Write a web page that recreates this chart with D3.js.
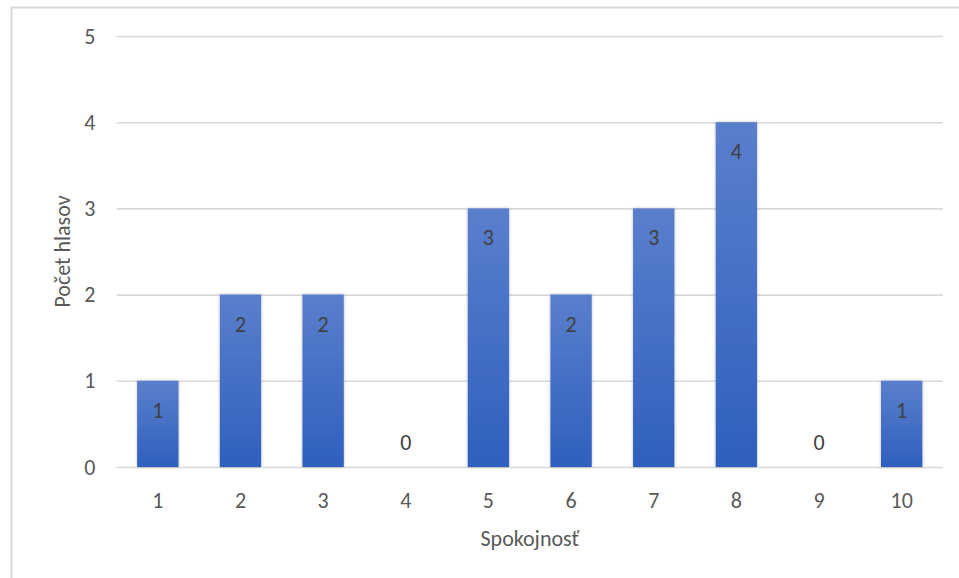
<!DOCTYPE html>
<html>
<head>
<meta charset="utf-8">
<script src="https://cdn.jsdelivr.net/npm/d3@7"></script>
<style>
  html, body { margin: 0; padding: 0; background: #fff; }
  svg { display: block; }
</style>
</head>
<body>
<svg id="chart" width="959" height="578"></svg>
<script>
// Satisfaction score categories and number of votes for each
const categories = ["1", "2", "3", "4", "5", "6", "7", "8", "9", "10"];
const votes = [1, 2, 2, 0, 3, 2, 3, 4, 0, 1];
const yTicks = [0, 1, 2, 3, 4, 5];
const xTitle = "Spokojnosť";
const yTitle = "Počet hlasov";

const W = 959, H = 578;
const margin = { left: 116.5, right: 16, top: 36, bottom: 111 };
const font = "Carlito, Calibri, Lato, 'Open Sans', sans-serif";
const fs = 22;

const svg = d3.select("#chart");

// chart frame
svg.append("rect")
  .attr("x", 11.5).attr("y", 7.5)
  .attr("width", W + 20).attr("height", H + 20)
  .attr("fill", "#fff")
  .attr("stroke", "#d9d9d9").attr("stroke-width", 2);

const x = d3.scaleBand()
  .domain(categories)
  .range([margin.left, W - margin.right])
  .paddingInner(0.5).paddingOuter(0.25);

const y = d3.scaleLinear()
  .domain([0, 5])
  .range([H - margin.bottom, margin.top]);

const defs = svg.append("defs");
const grad = defs.append("linearGradient")
  .attr("id", "barFill").attr("x1", 0).attr("y1", 0).attr("x2", 0).attr("y2", 1);
grad.append("stop").attr("offset", "0%").attr("stop-color", "#5a7fcc");
grad.append("stop").attr("offset", "100%").attr("stop-color", "#2f5fbe");

const shadow = defs.append("filter").attr("id", "barShadow")
  .attr("x", "-20%").attr("y", "-10%").attr("width", "140%").attr("height", "120%");
shadow.append("feDropShadow")
  .attr("dx", 0).attr("dy", 0).attr("stdDeviation", 1.6)
  .attr("flood-color", "#000").attr("flood-opacity", 0.28);

// horizontal gridlines and value axis
const yAxis = d3.axisLeft(y)
  .tickValues(yTicks)
  .tickSize(-(W - margin.right - margin.left))
  .tickPadding(21)
  .tickFormat(d3.format("d"));

const gy = svg.append("g")
  .attr("transform", `translate(${margin.left},0)`)
  .call(yAxis);
gy.select(".domain").remove();
gy.selectAll(".tick line").attr("stroke", "#d9d9d9").attr("stroke-width", 1.6);
gy.selectAll(".tick text")
  .attr("fill", "#595959").attr("font-family", font).attr("font-size", fs);

// bars
svg.append("g").selectAll("rect")
  .data(votes)
  .join("rect")
  .attr("x", (d, i) => x(categories[i]))
  .attr("y", d => y(d))
  .attr("width", x.bandwidth())
  .attr("height", d => y(0) - y(d))
  .attr("fill", "url(#barFill)")
  .attr("filter", "url(#barShadow)");

// value labels: inside the bar top, or just above the axis for empty bars
svg.append("g").selectAll("text")
  .data(votes)
  .join("text")
  .attr("x", (d, i) => x(categories[i]) + x.bandwidth() / 2)
  .attr("y", d => d > 0 ? y(d) + 37 : y(0) - 17)
  .attr("text-anchor", "middle")
  .attr("fill", "#404040")
  .attr("font-family", font).attr("font-size", fs)
  .text(d => d);

// category axis
const xAxis = d3.axisBottom(x).tickSize(0).tickPadding(25);
const gx = svg.append("g")
  .attr("transform", `translate(0,${y(0)})`)
  .call(xAxis);
gx.select(".domain").remove();
gx.selectAll(".tick text")
  .attr("fill", "#595959").attr("font-family", font).attr("font-size", fs);

// axis titles
svg.append("text")
  .attr("x", (margin.left + W - margin.right) / 2)
  .attr("y", 546)
  .attr("text-anchor", "middle")
  .attr("fill", "#595959").attr("font-family", font).attr("font-size", fs)
  .text(xTitle);

svg.append("text")
  .attr("transform", `translate(70,${(y(0) + y(5)) / 2}) rotate(-90)`)
  .attr("text-anchor", "middle")
  .attr("fill", "#595959").attr("font-family", font).attr("font-size", fs)
  .text(yTitle);
</script>
</body>
</html>
